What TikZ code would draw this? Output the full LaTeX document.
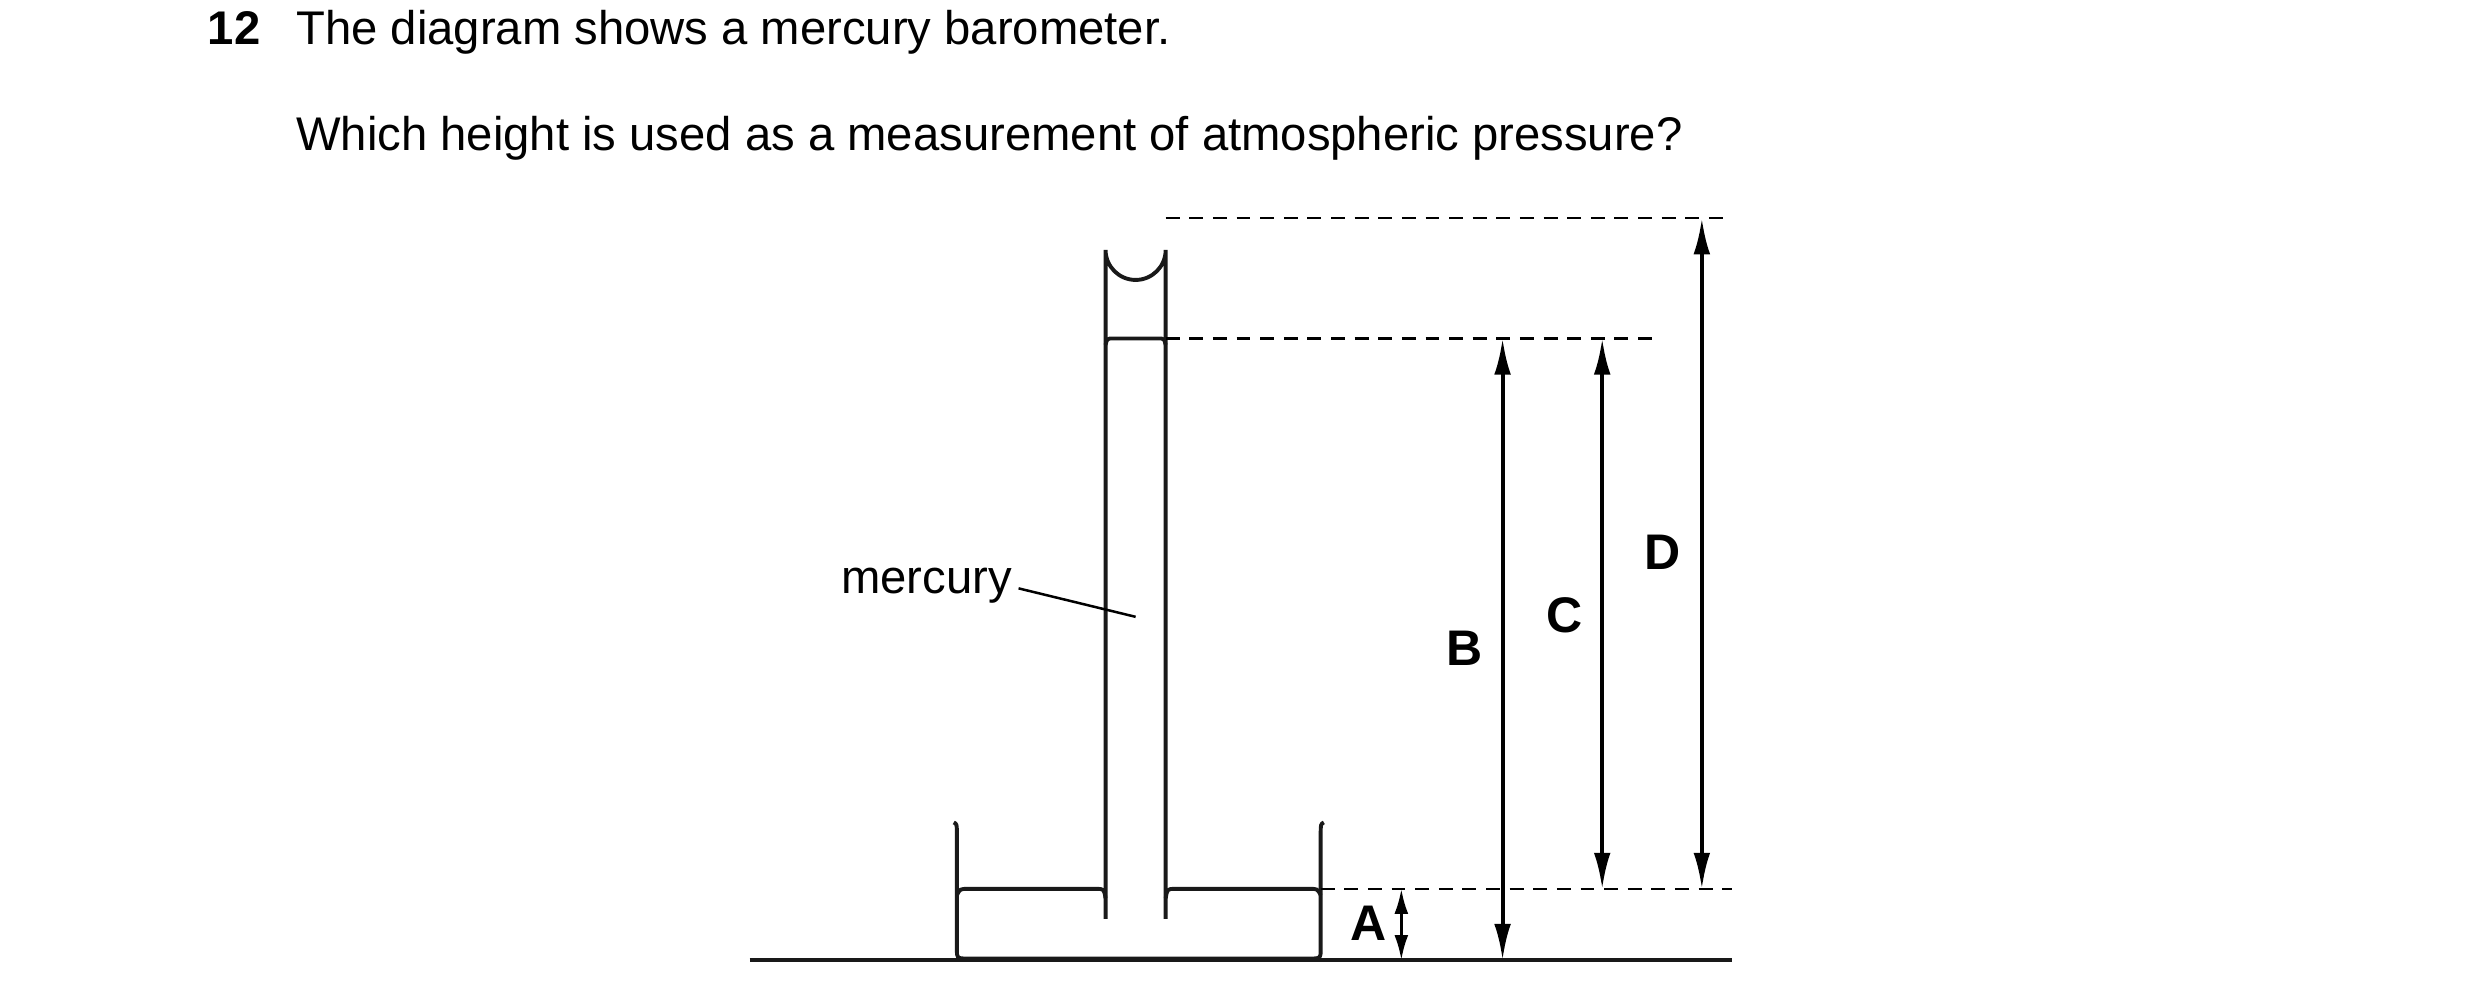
\documentclass[tikz,border=0pt]{standalone}
\usepackage{fontspec}
\setmainfont{Liberation Sans}
\usetikzlibrary{arrows.meta}
\begin{document}
\begin{tikzpicture}[x=0.02cm,y=-0.02cm,
  ln/.style={line width=1.4pt,color=black!90},
  dsh/.style={line width=0.8pt,dash pattern=on 5pt off 3.5pt},
  dim/.style={line width=1.4pt,{Latex[length=13pt,width=6pt]}-{Latex[length=13pt,width=6pt]}},
  txt/.style={font=\fontsize{17}{20}\selectfont,inner sep=0pt},
  lab/.style={font=\fontsize{18}{20}\selectfont\bfseries,inner sep=0pt}]
\useasboundingbox (0,0) rectangle (1568,634);
\node[txt,anchor=base west,font=\fontsize{17}{20}\selectfont\bfseries] (q) at (131,28) {12};
\node[txt,anchor=base west] (t1) at (187,28) {The diagram shows a mercury barometer.};
\node[txt,anchor=base west] (t2) at (187,95) {Which height is used as a measurement of atmospheric pressure?};
% tube
\draw[ln] (699,581) -- (699,158) arc[start angle=180,end angle=0,radius=19] -- (737,581);
\draw[ln] (699,218) .. controls (700,214) .. (704,214) -- (732,214) .. controls (736,214) .. (737,218);
% dish
\draw[ln] (603,520) .. controls (605,521) .. (605,528) -- (605,600) .. controls (605,606) .. (611,606) -- (829,606) .. controls (835,606) .. (835,600) -- (835,528) .. controls (835,521) .. (837,520);
\draw[ln] (605,566) .. controls (607,562) .. (612,562) -- (693,562) .. controls (698,562) .. (699,568);
\draw[ln] (737,568) .. controls (738,562) .. (743,562) -- (828,562) .. controls (833,562) .. (835,566);
% ground
\coordinate (g1) at (474,607); \coordinate (g2) at (1095,607);
\draw[ln] (g1) -- (g2);
% dashed
\coordinate (d1a) at (737,138); \coordinate (d1b) at (1095,138);
\coordinate (d2a) at (737,214); \coordinate (d2b) at (1045,214);
\coordinate (d3a) at (835,562); \coordinate (d3b) at (1095,562);
\draw[dsh] (d1a) -- (d1b); \draw[dsh] (d2a) -- (d2b); \draw[dsh] (d3a) -- (d3b);
% dimension arrows
\coordinate (At) at (886,562); \coordinate (Ab) at (886,607);
\coordinate (Bt) at (950,214); \coordinate (Bb) at (950,607);
\coordinate (Ct) at (1013,214); \coordinate (Cb) at (1013,562);
\coordinate (Dt) at (1076,138); \coordinate (Db) at (1076,562);
\draw[dim,{Latex[length=9pt,width=5pt]}-{Latex[length=9pt,width=5pt]},line width=1pt] (At) -- (Ab);
\draw[dim] (Bt) -- (Bb);
\draw[dim] (Ct) -- (Cb);
\draw[dim] (Dt) -- (Db);
\node[lab] (A) at (865,584) {A};
\node[lab] (B) at (926,410) {B};
\node[lab] (C) at (989,389) {C};
\node[lab] (D) at (1051,349) {D};
\node[txt,anchor=east] (m) at (640,370) {mercury};
\coordinate (mp) at (718,390);
\draw[line width=0.9pt] (m.east) ++(4,2) -- (mp);
\end{tikzpicture}
\end{document}
